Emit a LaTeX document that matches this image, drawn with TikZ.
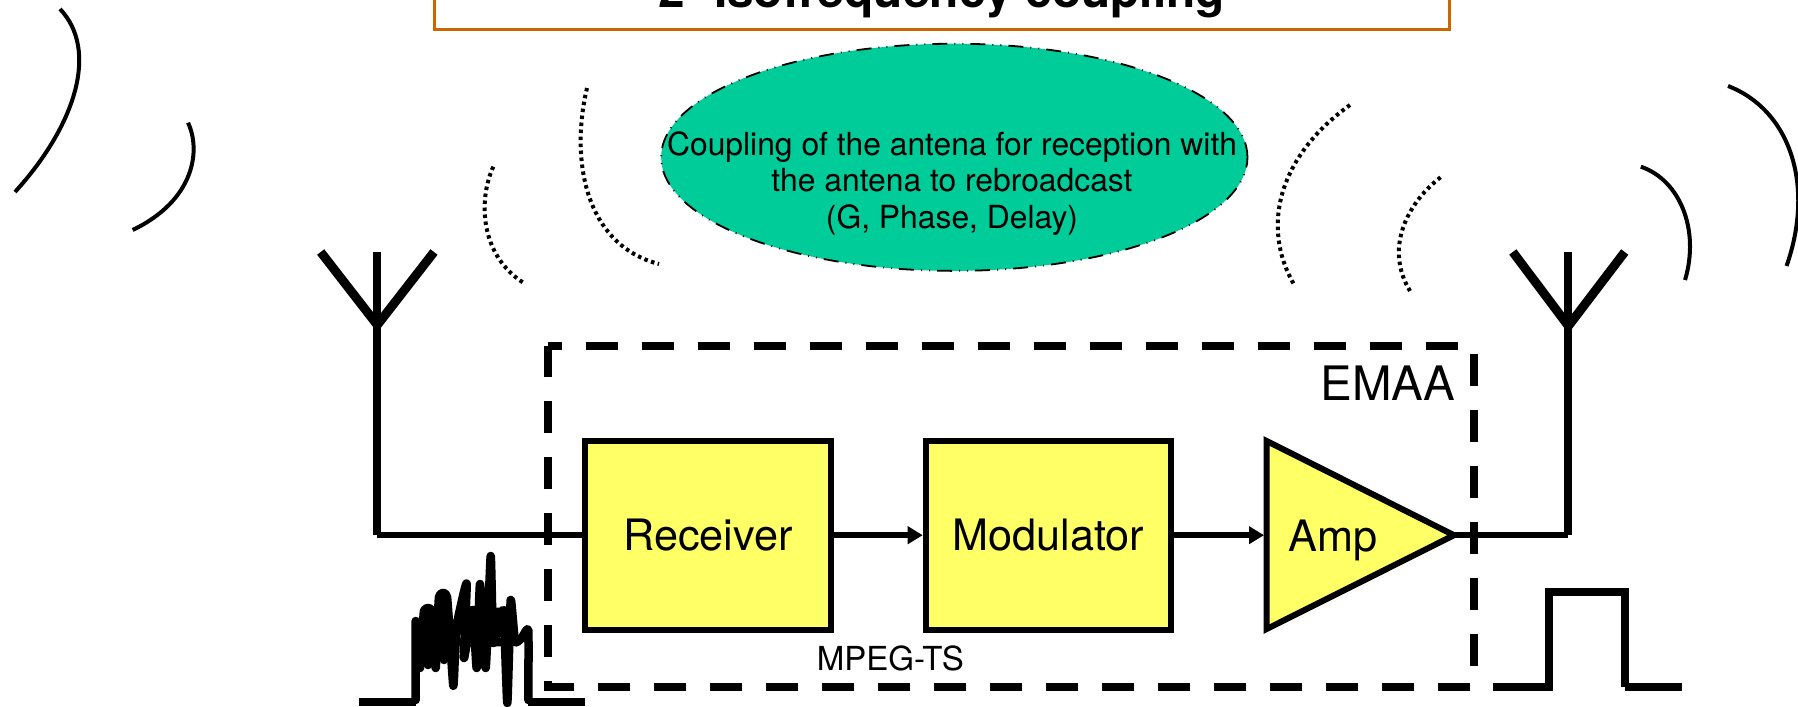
\documentclass[tikz,border=0pt]{standalone}
\usepackage{fontspec}
\setmainfont{TeX Gyre Heros}
\usetikzlibrary{arrows.meta, shapes.geometric}

\definecolor{boxyellow}{HTML}{FFFF66}
\definecolor{ellipsegreen}{HTML}{00CC99}
\definecolor{titleorange}{HTML}{CC6600}

\begin{document}
\begin{tikzpicture}
	[
		x=0.01cm, y=-0.01cm,
		block/.style={draw=black, fill=boxyellow, line width=0.06cm, inner sep=0pt, text height=0.30cm, text depth=0pt, minimum width=2.45cm, minimum height=1.89cm, font=\fontsize{12.3pt}{14pt}\selectfont},
		smalltext/.style={inner sep=0pt, font=\fontsize{9.05pt}{10.45pt}\selectfont},
		wire/.style={line width=0.06cm},
		flow/.style={line width=0.06cm, -{Triangle[length=0.15cm,width=0.17cm]}},
		mast/.style={line width=0.08cm},
		fork/.style={line width=0.09cm},
		pulse/.style={line width=0.08cm},
		noise/.style={line width=0.085cm, line join=round, line cap=round},
		wave/.style={line width=0.04cm},
		echo/.style={line width=0.04cm, dash pattern=on 0.035cm off 0.035cm}
	]
	\useasboundingbox (0,0) rectangle (1798,707);

	% title
	\node (titlebox) at (942, -20.25) [draw=titleorange, line width=0.03cm, minimum width=10.147cm, minimum height=0.995cm] {};
	\node (title) at (941.5, 8) [anchor=base, inner sep=0pt, font=\bfseries\fontsize{13.6pt}{15pt}\selectfont] {2- Isofrequency coupling};

	% coupling
	\node (coupling) at (954.3, 157.3) [ellipse, draw=black, fill=ellipsegreen, line width=0.018cm, dash pattern=on 0.15cm off 0.07cm on 0.01cm off 0.07cm on 0.01cm off 0.07cm, inner sep=0pt, minimum width=5.86cm, minimum height=2.27cm] {};
	\node (couplingtext) at (952, 183.4) [smalltext, align=center] {Coupling of the antena for reception with\hspace{0.1cm}\\the antena to rebroadcast\\(G, Phase, Delay)};

	% EMAA frame
	\draw [line width=0.08cm, dash pattern=on 0.32cm off 0.24cm, dash phase=0.18cm]
		(547.5, 346) -- (1474, 346) -- (1474, 686.7) -- (547.5, 686.7) -- cycle;
	\node (emaa) at (1388, 401) [anchor=base, font=\fontsize{13.5pt}{15pt}\selectfont, inner sep=0pt] {EMAA};
	\node (mpeg) at (890.3, 670) [anchor=base, smalltext, font=\fontsize{9.4pt}{11pt}\selectfont] {MPEG-TS};

	% chain
	\node (receiver)  at (708, 535.2)  [block] {Receiver};
	\node (modulator) at (1048.3, 535.2) [block] {Modulator};

	\coordinate (ampnw) at (1266.7, 441);
	\coordinate (ampsw) at (1266.7, 629);
	\coordinate (amptip) at (1454, 535.2);
	\draw [draw=black, fill=boxyellow, line width=0.06cm] (ampnw) -- (amptip) -- (ampsw) -- cycle;
	\node (amp) at (1333, 551.5) [anchor=base, font=\fontsize{12.3pt}{14pt}\selectfont, inner sep=0pt] {Amp};

	\draw [flow] (receiver.east) -- (modulator.west);
	\draw [flow] (modulator.east) -- (1264, 535.2);

	% left antenna
	\coordinate (rxtop)   at (377.3, 252);
	\coordinate (rxfork)  at (377.3, 325);
	\coordinate (rxleft)  at (320.7, 252);
	\coordinate (rxright) at (434, 252);
	\coordinate (rxfoot)  at (377.3, 535.2);
	\draw [fork] (rxleft) -- (rxfork) -- (rxright);
	\draw [mast] (rxtop) -- (rxfoot);
	\draw [wire] (rxfoot) -- (receiver.west);

	% right antenna
	\coordinate (txtop)   at (1568.4, 252);
	\coordinate (txfork)  at (1568.4, 326);
	\coordinate (txleft)  at (1512.8, 252);
	\coordinate (txright) at (1624.7, 252);
	\coordinate (txfoot)  at (1568.4, 535.2);
	\draw [fork] (txleft) -- (txfork) -- (txright);
	\draw [mast] (txtop) -- (txfoot);
	\draw [wire] (amptip) -- (txfoot);

	% output pulse
	\draw [pulse] (1492.7, 686.7) -- (1549.3, 686.7) (1549.3, 690.7) -- (1549.3, 592)
		(1545.3, 592) -- (1625, 592) (1625, 588) -- (1625, 686.7) (1625, 686.7) -- (1681.7, 686.7);

	% input pulse
	\draw [pulse] (359, 702.3) -- (415.7, 702.3) (528.3, 702.3) -- (585, 702.3);
	\draw [noise]
		plot [smooth, tension=0.25] coordinates {
			(415.7,700) (415.7,621) (420,668) (424,611) (432,611) (435.7,668)
			(439,597) (447,597) (453.3,685.7) (456,630) (461.7,601.7) (466.7,584)
			(464,658) (472.7,610) (476.7,668) (480,584) (485.7,668) (490.7,556)
			(493.3,643) (503.3,610) (507.3,703) (510.7,600) (515,641.7) (521.7,638)
			(528.3,630) (528.3,700)};
	\draw [noise] (426,612) -- (428,665) -- (431,612) (441,600) -- (444,660) -- (446,600);
	\draw [noise] (458,642) -- (510,642) -- (510,630) -- (458,630) -- (460,618) -- (508,618) -- (505,612) -- (468,612);

	% waves
	\draw [wave] (60, 9) .. controls (99, 50) and (76, 125) .. (15, 192);
	\draw [wave] (188, 122.7) .. controls (201, 150) and (195, 200) .. (132.7, 230);
	\draw [wave] (1640.8, 166.7) .. controls (1680, 180) and (1700, 230) .. (1685, 280);
	\draw [wave] (1728, 86) .. controls (1790, 110) and (1815, 185) .. (1786.5, 266);

	\draw [echo] (493.3, 166.7) .. controls (478, 200) and (480, 255) .. (523.3, 282.7);
	\draw [echo] (587, 88) .. controls (570, 160) and (585, 245) .. (659, 264);
	\draw [echo] (1350, 105) .. controls (1280, 155) and (1260, 225) .. (1293.7, 284);
	\draw [echo] (1440.5, 177.3) .. controls (1405, 205) and (1385, 250) .. (1410, 291);
\end{tikzpicture}
\end{document}
